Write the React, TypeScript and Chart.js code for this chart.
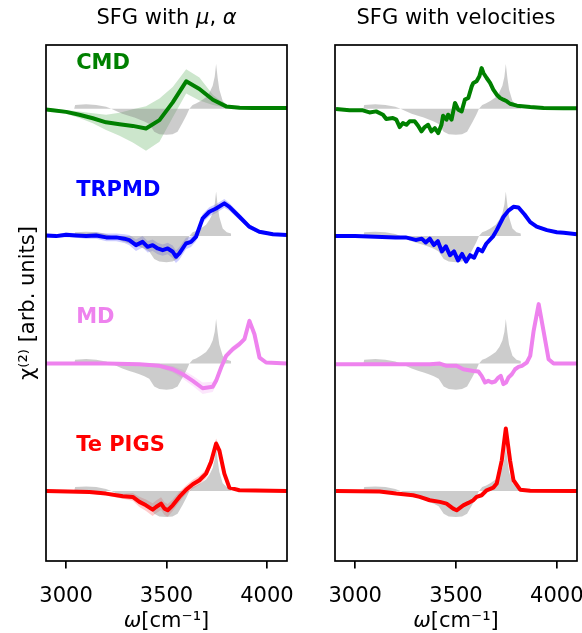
import React, { useEffect, useRef } from "react";
import { Chart, registerables } from "chart.js";
Chart.register(...registerables);

const W = 582;
const H = 633;
const FONT = "DejaVu Sans";

// axis ranges and ticks
const X_MIN = 2900;
const X_MAX = 4100;
const Y_MIN = -0.55;
const Y_MAX = 3.5;
const X_TICKS = [3000, 3500, 4000];

// vertical offsets of the stacked traces
const OFF_CMD = 3;
const OFF_TRPMD = 2;
const OFF_MD = 1;
const OFF_PIGS = 0;

// experimental reference spectrum (grey)
const EXP_X = [3040, 3045, 3100, 3150, 3199, 3225, 3249, 3280, 3315, 3340, 3365, 3390, 3414, 3439, 3464, 3500, 3530, 3555, 3580, 3600, 3614, 3630, 3647, 3670, 3697, 3715, 3730, 3740, 3747, 3755, 3763, 3780, 3800, 3821, 3822];
const EXP_Y = [0, 0.03, 0.035, 0.03, 0.016, 0.0, -0.018, -0.04, -0.058, -0.07, -0.084, -0.1, -0.12, -0.18, -0.2, -0.205, -0.2, -0.18, -0.11, -0.05, 0, 0.03, 0.04, 0.06, 0.09, 0.13, 0.18, 0.25, 0.35, 0.24, 0.15, 0.06, 0.03, 0.02, 0];

// ---------- left panel: SFG with mu, alpha ----------
const CMD_MUA_X = [2867, 2933, 3000, 3066, 3133, 3199, 3266, 3332, 3398, 3465, 3531, 3598, 3664, 3731, 3797, 3864, 3930, 3997, 4063, 4130];
const CMD_MUA_Y = [0, -0.012, -0.025, -0.047, -0.075, -0.107, -0.122, -0.135, -0.155, -0.09, 0.05, 0.215, 0.155, 0.07, 0.018, 0.008, 0.005, 0.005, 0.005, 0.005];
const CMD_MUA_ERR = [0.01, 0.012, 0.015, 0.025, 0.04, 0.06, 0.09, 0.13, 0.175, 0.17, 0.12, 0.095, 0.09, 0.04, 0.01, 0.005, 0.003, 0.003, 0.003, 0.003];

const TRPMD_MUA_X = [2900, 2950, 3000, 3050, 3100, 3150, 3200, 3250, 3290, 3315, 3348, 3381, 3406, 3431, 3456, 3481, 3506, 3531, 3547, 3564, 3597, 3622, 3647, 3680, 3713, 3747, 3788, 3813, 3863, 3913, 3962, 4030, 4100];
const TRPMD_MUA_Y = [0.005, 0.0, 0.01, 0.005, 0.0, 0.005, -0.01, -0.01, -0.02, -0.031, -0.071, -0.045, -0.084, -0.071, -0.097, -0.11, -0.097, -0.123, -0.162, -0.136, -0.058, -0.045, -0.005, 0.139, 0.191, 0.217, 0.257, 0.23, 0.152, 0.073, 0.034, 0.015, 0.008];
const TRPMD_MUA_ERR = [0.015, 0.015, 0.018, 0.018, 0.02, 0.025, 0.03, 0.03, 0.035, 0.04, 0.045, 0.045, 0.045, 0.045, 0.045, 0.045, 0.045, 0.05, 0.05, 0.05, 0.045, 0.04, 0.035, 0.035, 0.035, 0.035, 0.035, 0.03, 0.025, 0.02, 0.015, 0.012, 0.012];

const MD_MUA_X = [2900, 3199, 3365, 3465, 3531, 3581, 3631, 3680, 3730, 3747, 3772, 3797, 3830, 3863, 3888, 3913, 3938, 3963, 3996, 4100];
const MD_MUA_Y = [0, 0, -0.005, -0.018, -0.045, -0.084, -0.136, -0.194, -0.183, -0.136, -0.031, 0.06, 0.113, 0.152, 0.191, 0.335, 0.23, 0.047, 0.008, 0];
const MD_MUA_ERR = [0.005, 0.005, 0.008, 0.015, 0.025, 0.035, 0.04, 0.045, 0.04, 0.035, 0.03, 0.025, 0.025, 0.025, 0.025, 0.025, 0.02, 0.01, 0.005, 0.005];

const PIGS_MUA_X = [2900, 3116, 3199, 3282, 3332, 3365, 3398, 3431, 3448, 3473, 3490, 3506, 3531, 3564, 3597, 3631, 3664, 3697, 3722, 3747, 3763, 3788, 3813, 3863, 4100];
const PIGS_MUA_Y = [0, -0.008, -0.021, -0.042, -0.047, -0.086, -0.113, -0.147, -0.126, -0.1, -0.139, -0.152, -0.113, -0.047, 0.008, 0.052, 0.084, 0.136, 0.228, 0.372, 0.319, 0.136, 0.026, 0.005, 0];
const PIGS_MUA_ERR = [0.01, 0.012, 0.015, 0.02, 0.03, 0.04, 0.045, 0.05, 0.05, 0.05, 0.05, 0.05, 0.045, 0.04, 0.035, 0.035, 0.035, 0.035, 0.04, 0.04, 0.035, 0.025, 0.012, 0.01, 0.01];

// ---------- right panel: SFG with velocities ----------
const CMD_VEL_X = [2905, 2972, 3038, 3071, 3104, 3138, 3154, 3187, 3204, 3221, 3237, 3254, 3270, 3295, 3312, 3329, 3345, 3362, 3378, 3395, 3412, 3428, 3436, 3453, 3461, 3478, 3495, 3511, 3528, 3544, 3561, 3578, 3586, 3602, 3616, 3627, 3636, 3652, 3669, 3685, 3702, 3719, 3735, 3752, 3768, 3802, 3868, 3934, 4034, 4100];
const CMD_VEL_Y = [-0.003, -0.013, -0.013, -0.029, -0.021, -0.047, -0.081, -0.073, -0.086, -0.144, -0.113, -0.126, -0.099, -0.099, -0.134, -0.178, -0.144, -0.126, -0.178, -0.152, -0.191, -0.126, -0.055, -0.086, -0.047, -0.086, 0.045, -0.008, -0.021, 0.071, 0.084, 0.175, 0.202, 0.215, 0.254, 0.319, 0.28, 0.241, 0.202, 0.149, 0.11, 0.084, 0.071, 0.058, 0.039, 0.024, 0.013, 0.005, 0.003, 0.003];

const TRPMD_VEL_X = [2900, 3000, 3100, 3200, 3250, 3300, 3330, 3350, 3370, 3390, 3410, 3430, 3450, 3470, 3490, 3510, 3530, 3550, 3570, 3590, 3610, 3630, 3650, 3685, 3702, 3735, 3760, 3785, 3810, 3840, 3868, 3900, 3951, 4000, 4034, 4100];
const TRPMD_VEL_Y = [0.0, 0.0, -0.005, -0.01, -0.01, -0.03, -0.02, -0.05, -0.02, -0.07, -0.04, -0.12, -0.08, -0.15, -0.12, -0.19, -0.14, -0.2, -0.15, -0.17, -0.1, -0.12, -0.06, 0.0, 0.047, 0.15, 0.2, 0.23, 0.225, 0.17, 0.11, 0.075, 0.047, 0.03, 0.026, 0.015];

const MD_VEL_X = [2905, 3370, 3420, 3453, 3503, 3536, 3586, 3611, 3627, 3644, 3660, 3677, 3694, 3710, 3722, 3735, 3748, 3760, 3777, 3793, 3810, 3827, 3851, 3868, 3885, 3910, 3934, 3959, 3984, 4100];
const MD_VEL_Y = [-0.005, -0.005, 0, -0.018, -0.018, -0.045, -0.058, -0.063, -0.097, -0.149, -0.136, -0.149, -0.141, -0.11, -0.097, -0.162, -0.149, -0.11, -0.084, -0.045, -0.026, -0.018, 0.008, 0.06, 0.257, 0.466, 0.257, 0.034, 0, 0];

const PIGS_VEL_X = [2905, 3121, 3204, 3287, 3320, 3370, 3420, 3453, 3486, 3503, 3536, 3561, 3586, 3602, 3627, 3652, 3685, 3702, 3727, 3747, 3768, 3785, 3818, 3868, 4100];
const PIGS_VEL_Y = [0, -0.005, -0.021, -0.034, -0.047, -0.073, -0.086, -0.1, -0.139, -0.152, -0.113, -0.094, -0.073, -0.047, -0.034, 0.005, 0.026, 0.058, 0.24, 0.49, 0.24, 0.084, 0.01, 0.002, 0];

// method labels and colours
const NAMES = ["CMD", "TRPMD", "MD", "Te PIGS"];
const COLORS = ["green", "#0000ff", "violet", "#ff0000"];
const BANDS = ["rgba(0,128,0,0.2)", "rgba(0,0,255,0.2)", "rgba(238,130,238,0.2)", "rgba(255,0,0,0.2)"];
const OFFSETS = [OFF_CMD, OFF_TRPMD, OFF_MD, OFF_PIGS];
const LABEL_X = 3050;
const LABEL_DY = 0.357;
const GREY = "rgba(128,128,128,0.4)";

type Trace = { x: number[]; y: number[]; err?: number[] };

const LEFT_TRACES: Trace[] = [
  { x: CMD_MUA_X, y: CMD_MUA_Y, err: CMD_MUA_ERR },
  { x: TRPMD_MUA_X, y: TRPMD_MUA_Y, err: TRPMD_MUA_ERR },
  { x: MD_MUA_X, y: MD_MUA_Y, err: MD_MUA_ERR },
  { x: PIGS_MUA_X, y: PIGS_MUA_Y, err: PIGS_MUA_ERR },
];
const RIGHT_TRACES: Trace[] = [
  { x: CMD_VEL_X, y: CMD_VEL_Y },
  { x: TRPMD_VEL_X, y: TRPMD_VEL_Y },
  { x: MD_VEL_X, y: MD_VEL_Y },
  { x: PIGS_VEL_X, y: PIGS_VEL_Y },
];

type Part = { t: string; italic?: boolean };
const TITLE_LEFT: Part[] = [{ t: "SFG with " }, { t: "μ", italic: true }, { t: ", " }, { t: "α", italic: true }];
const TITLE_RIGHT: Part[] = [{ t: "SFG with velocities" }];
const XLABEL: Part[] = [{ t: "ω", italic: true }, { t: "[cm⁻¹]" }];
const YLABEL = "χ⁽²⁾ [arb. units]";

// layout of the plot areas (pixels)
const TOP = 45;
const BOTTOM = 561;
const LEFT_AREA = [46, 287];
const RIGHT_AREA = [335, 577];

function drawParts(ctx: CanvasRenderingContext2D, parts: Part[], cx: number, baseline: number) {
  const fontOf = (p: Part) => `${p.italic ? "italic " : ""}21px '${FONT}'`;
  let total = 0;
  const widths = parts.map((p) => {
    ctx.font = fontOf(p);
    const w = ctx.measureText(p.t).width;
    total += w;
    return w;
  });
  let x = cx - total / 2;
  ctx.fillStyle = "#000";
  ctx.textBaseline = "alphabetic";
  ctx.textAlign = "left";
  parts.forEach((p, i) => {
    ctx.font = fontOf(p);
    ctx.fillText(p.t, x, baseline);
    x += widths[i];
  });
}

function buildDatasets(traces: Trace[]) {
  const ds: any[] = [];
  traces.forEach((tr, k) => {
    const off = OFFSETS[k];
    if (tr.err) {
      const lowIdx = ds.length;
      ds.push({
        data: tr.x.map((x, i) => ({ x, y: off + tr.y[i] - tr.err![i] })),
        borderColor: "rgba(0,0,0,0)",
        backgroundColor: "rgba(0,0,0,0)",
        borderWidth: 0,
        pointRadius: 0,
        fill: false,
        order: 3,
        clip: 0,
      });
      ds.push({
        data: tr.x.map((x, i) => ({ x, y: off + tr.y[i] + tr.err![i] })),
        borderColor: "rgba(0,0,0,0)",
        backgroundColor: BANDS[k],
        borderWidth: 0,
        pointRadius: 0,
        fill: lowIdx,
        order: 3,
        clip: 0,
      });
    }
    ds.push({
      data: EXP_X.map((x, i) => ({ x, y: off + EXP_Y[i] })),
      borderColor: "rgba(0,0,0,0)",
      backgroundColor: GREY,
      borderWidth: 0,
      pointRadius: 0,
      fill: { value: off },
      order: 2,
      clip: 0,
    });
    ds.push({
      data: tr.x.map((x, i) => ({ x, y: off + tr.y[i] })),
      borderColor: COLORS[k],
      borderWidth: 4,
      borderJoinStyle: "round",
      pointRadius: 0,
      fill: false,
      order: 1,
      clip: 0,
    });
  });
  return ds;
}

function makeChart(canvas: HTMLCanvasElement, traces: Trace[], area: number[], title: Part[], isLeft: boolean) {
  const plugin = {
    id: "decor" + (isLeft ? "L" : "R"),
    afterDraw(chart: any) {
      const { ctx, chartArea, scales } = chart;
      ctx.save();
      ctx.strokeStyle = "#000";
      ctx.lineWidth = 1.7;
      ctx.strokeRect(chartArea.left, chartArea.top, chartArea.right - chartArea.left, chartArea.bottom - chartArea.top);
      const cx = (chartArea.left + chartArea.right) / 2;
      drawParts(ctx, title, cx, 24);
      drawParts(ctx, XLABEL, cx, 627);
      if (isLeft) {
        ctx.font = `bold 21px '${FONT}'`;
        ctx.textBaseline = "middle";
        ctx.textAlign = "left";
        NAMES.forEach((n, k) => {
          ctx.fillStyle = COLORS[k];
          ctx.fillText(n, scales.x.getPixelForValue(LABEL_X), scales.y.getPixelForValue(OFFSETS[k] + LABEL_DY));
        });
      }
      ctx.restore();
    },
  };
  return new Chart(canvas, {
    type: "line",
    data: { datasets: buildDatasets(traces) },
    options: {
      animation: false,
      responsive: false,
      events: [],
      layout: { padding: { left: 0, right: W - area[1], top: TOP, bottom: 0 } },
      plugins: { legend: { display: false }, tooltip: { enabled: false }, title: { display: false } },
      elements: { line: { tension: 0 } },
      scales: {
        x: {
          type: "linear",
          min: X_MIN,
          max: X_MAX,
          afterBuildTicks: (s: any) => {
            s.ticks = X_TICKS.map((v) => ({ value: v }));
          },
          afterFit: (s: any) => {
            s.height = H - BOTTOM;
            s.paddingLeft = 0;
            s.paddingRight = 0;
          },
          grid: { drawOnChartArea: false, drawTicks: true, tickLength: 7.5, color: "#000", lineWidth: 1.7 },
          border: { display: false },
          ticks: {
            color: "#000",
            font: { size: 21, family: FONT },
            padding: 15,
            maxRotation: 0,
            autoSkip: false,
            callback: (v: any) => String(v),
          },
        },
        y: {
          type: "linear",
          min: Y_MIN,
          max: Y_MAX,
          display: true,
          afterFit: (s: any) => {
            s.width = area[0];
          },
          grid: { display: false },
          border: { display: false },
          ticks: { display: false },
          title: { display: isLeft, text: YLABEL, color: "#000", font: { size: 21, family: FONT }, padding: { top: 16, bottom: 0 } },
        },
      },
    } as any,
    plugins: [plugin],
  });
}

export default function App() {
  const leftRef = useRef<HTMLCanvasElement>(null);
  const rightRef = useRef<HTMLCanvasElement>(null);
  useEffect(() => {
    document.body.style.margin = "0";
    Chart.defaults.font.family = FONT;
    const a = makeChart(leftRef.current!, LEFT_TRACES, LEFT_AREA, TITLE_LEFT, true);
    const b = makeChart(rightRef.current!, RIGHT_TRACES, RIGHT_AREA, TITLE_RIGHT, false);
    return () => {
      a.destroy();
      b.destroy();
    };
  }, []);
  const cs: React.CSSProperties = { position: "absolute", left: 0, top: 0, width: W, height: H };
  return (
    <div style={{ position: "relative", width: W, height: H, background: "#fff" }}>
      <canvas ref={leftRef} width={W} height={H} style={cs} />
      <canvas ref={rightRef} width={W} height={H} style={cs} />
    </div>
  );
}
